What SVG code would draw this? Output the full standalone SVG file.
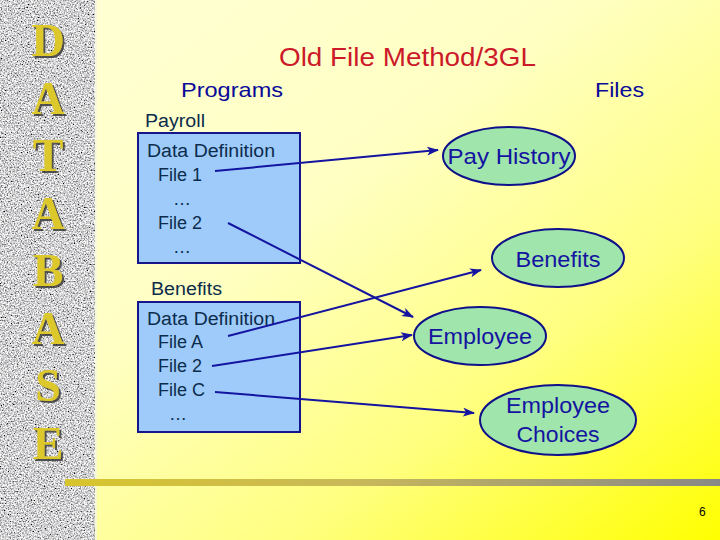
<svg xmlns="http://www.w3.org/2000/svg" width="720" height="540" viewBox="0 0 720 540">
<defs>
<linearGradient id="bg" x1="0" y1="0" x2="1" y2="1">
<stop offset="0" stop-color="#ffffd6"/>
<stop offset="0.4" stop-color="#ffffc4"/>
<stop offset="0.7" stop-color="#ffff80"/>
<stop offset="1" stop-color="#ffff00"/>
</linearGradient>
<linearGradient id="bar" x1="0" y1="0" x2="1" y2="0">
<stop offset="0" stop-color="#d8c52c"/>
<stop offset="0.45" stop-color="#c8b85a"/>
<stop offset="1" stop-color="#888888"/>
</linearGradient>
<filter id="granite" x="0" y="0" width="100%" height="100%" filterUnits="objectBoundingBox">
<feTurbulence type="fractalNoise" baseFrequency="0.7" numOctaves="3" seed="7"/>
<feColorMatrix type="matrix" values="2 0 0 0 -0.36  2 0 0 0 -0.36  2 0 0 0 -0.35  0 0 0 0 1"/>
</filter>
<filter id="shadow" x="-20%" y="-20%" width="150%" height="150%">
<feDropShadow dx="2" dy="2" stdDeviation="0.6" flood-color="#333333" flood-opacity="0.8"/>
</filter>
<marker id="arr" markerUnits="userSpaceOnUse" markerWidth="12" markerHeight="10" refX="11" refY="4.5" orient="auto">
<path d="M0,0 L12,4.5 L0,9 L3,4.5 z" fill="#1414a0"/>
</marker>
<style>
.side{font-family:"Liberation Serif","Times New Roman",serif;font-weight:bold;font-size:46px;text-anchor:middle;fill:#dcc82a;filter:url(#shadow)}
.t{font-family:"Liberation Sans",Arial,sans-serif}
.box{fill:#9ecbfa;stroke:#16168c;stroke-width:2}
.bt{font-family:"Liberation Sans",Arial,sans-serif;font-size:18px;fill:#0c2c4c}
.ell{fill:#a0e6ac;stroke:#10108a;stroke-width:2}
.et{font-family:"Liberation Sans",Arial,sans-serif;font-size:22px;fill:#1414a0;text-anchor:middle}
.con{stroke:#1414a0;stroke-width:2;fill:none;marker-end:url(#arr)}
</style>
</defs>
<rect x="0" y="0" width="720" height="540" fill="url(#bg)"/>
<g id="sidebar">
<rect x="0" y="0" width="95" height="540" fill="#aaa" filter="url(#granite)"/>
<line x1="96" y1="0" x2="96" y2="540" stroke="#f4f4e0" stroke-width="1.5"/>
<text class="side" x="48" y="56">D</text>
<text class="side" x="48" y="114">A</text>
<text class="side" x="48" y="171">T</text>
<text class="side" x="48" y="229">A</text>
<text class="side" x="48" y="286">B</text>
<text class="side" x="48" y="344">A</text>
<text class="side" x="48" y="401">S</text>
<text class="side" x="48" y="459">E</text>
</g>
<rect x="65" y="479" width="655" height="7" fill="url(#bar)"/>
<text class="t" x="279" y="66" font-size="25" fill="#cc1a2a" textLength="257" lengthAdjust="spacingAndGlyphs">Old File Method/3GL</text>
<text class="t" x="181" y="97" font-size="21" fill="#0a0a99" textLength="102" lengthAdjust="spacingAndGlyphs">Programs</text>
<text class="t" x="595" y="97" font-size="21" fill="#0a0a99" textLength="49" lengthAdjust="spacingAndGlyphs">Files</text>
<g id="payroll">
<text class="bt" x="145" y="127" textLength="60" lengthAdjust="spacingAndGlyphs">Payroll</text>
<rect class="box" x="138" y="133" width="162" height="130"/>
<text class="bt" x="147" y="157" textLength="128" lengthAdjust="spacingAndGlyphs">Data Definition</text>
<text class="bt" x="158" y="181">File 1</text>
<text class="bt" x="182" y="205" text-anchor="middle">…</text>
<text class="bt" x="158" y="229">File 2</text>
<text class="bt" x="182" y="253" text-anchor="middle">…</text>
</g>
<g id="benefits-prog">
<text class="bt" x="151" y="295" textLength="71" lengthAdjust="spacingAndGlyphs">Benefits</text>
<rect class="box" x="138" y="302" width="162" height="130"/>
<text class="bt" x="147" y="325" textLength="128" lengthAdjust="spacingAndGlyphs">Data Definition</text>
<text class="bt" x="158" y="348">File A</text>
<text class="bt" x="158" y="372">File 2</text>
<text class="bt" x="158" y="396">File C</text>
<text class="bt" x="178" y="420" text-anchor="middle">…</text>
</g>
<g id="pay-history">
<ellipse class="ell" cx="509" cy="156" rx="66" ry="29"/>
<text class="et" x="509" y="164" textLength="123" lengthAdjust="spacingAndGlyphs">Pay History</text>
</g>
<g id="benefits-file">
<ellipse class="ell" cx="558" cy="258" rx="66" ry="29"/>
<text class="et" x="558" y="267" textLength="85" lengthAdjust="spacingAndGlyphs">Benefits</text>
</g>
<g id="employee">
<ellipse class="ell" cx="480" cy="336" rx="66" ry="29"/>
<text class="et" x="480" y="344" textLength="104" lengthAdjust="spacingAndGlyphs">Employee</text>
</g>
<g id="employee-choices">
<ellipse class="ell" cx="558" cy="420" rx="78" ry="35"/>
<text class="et" x="558" y="413" textLength="104" lengthAdjust="spacingAndGlyphs">Employee</text>
<text class="et" x="558" y="442" textLength="83" lengthAdjust="spacingAndGlyphs">Choices</text>
</g>
<g id="connectors">
<line class="con" x1="215" y1="171" x2="438" y2="150"/>
<line class="con" x1="228" y1="223" x2="413" y2="317"/>
<line class="con" x1="228" y1="336" x2="481" y2="270"/>
<line class="con" x1="212" y1="366" x2="412" y2="335"/>
<line class="con" x1="215" y1="392" x2="474" y2="413"/>
</g>
<text class="t" x="699" y="516" font-size="12" fill="#000">6</text>
</svg>
